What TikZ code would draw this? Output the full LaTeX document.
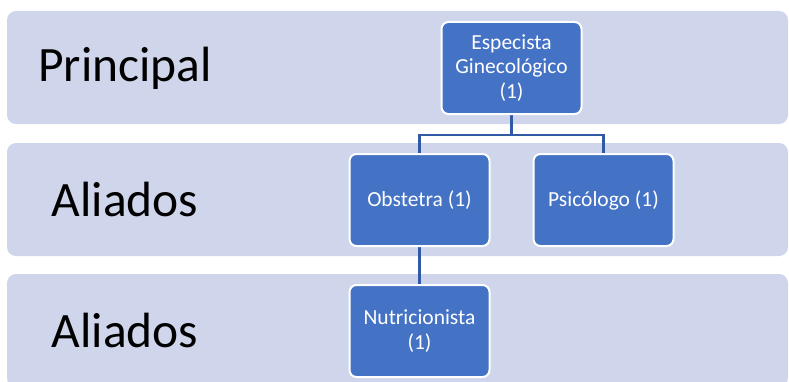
\documentclass[tikz,border=0pt]{standalone}
\usepackage{fontspec}
\setmainfont{Carlito}
\definecolor{bandfill}{HTML}{CFD5EA}
\definecolor{boxfill}{HTML}{4472C4}
\definecolor{linkblue}{HTML}{3259A6}

\begin{document}
\begin{tikzpicture}[x=1pt, y=1pt,
    band/.style={fill=bandfill, rounded corners=9pt},
    level/.style={font=\fontsize{49.5}{59}\selectfont, text=black},
    role/.style={draw=white, line width=2pt, fill=boxfill, rounded corners=7pt,
        minimum width=140pt, minimum height=92pt, align=center, text=white,
        inner sep=2pt, font=\fontsize{21.5}{24.5}\selectfont},
    link/.style={draw=linkblue, line width=2.7pt}]
    \useasboundingbox (0,0) rectangle (789,381);
    \clip (0,0) rectangle (789,381);
    % bands
    \fill[band] (7,257) rectangle (788,370);
    \fill[band] (7,125) rectangle (788,238);
    \fill[band] (7,-6) rectangle (788,107);
    \node[level] (lp) at (125,313) {Principal};
    \node[level] (la1) at (125,181.5) {Aliados};
    \node[level] (la2) at (125,51) {Aliados};
    % connectors
    \coordinate (fork) at (511.5,246);
    \draw[link] (511.5,266) -- (fork) -| (419.5,228);
    \draw[link] (fork) -| (603.5,228);
    \draw[link] (419.5,134) -- (419.5,97);
    % roles
    \node[role] (esp) at (511.5,313) {Especista\\Ginecológico\\(1)};
    \node[role] (obs) at (419.5,181) {Obstetra (1)};
    \node[role] (psi) at (603.5,181) {Psicólogo (1)};
    \node[role] (nut) at (419.5,50) {Nutricionista\\(1)};
\end{tikzpicture}
\end{document}
